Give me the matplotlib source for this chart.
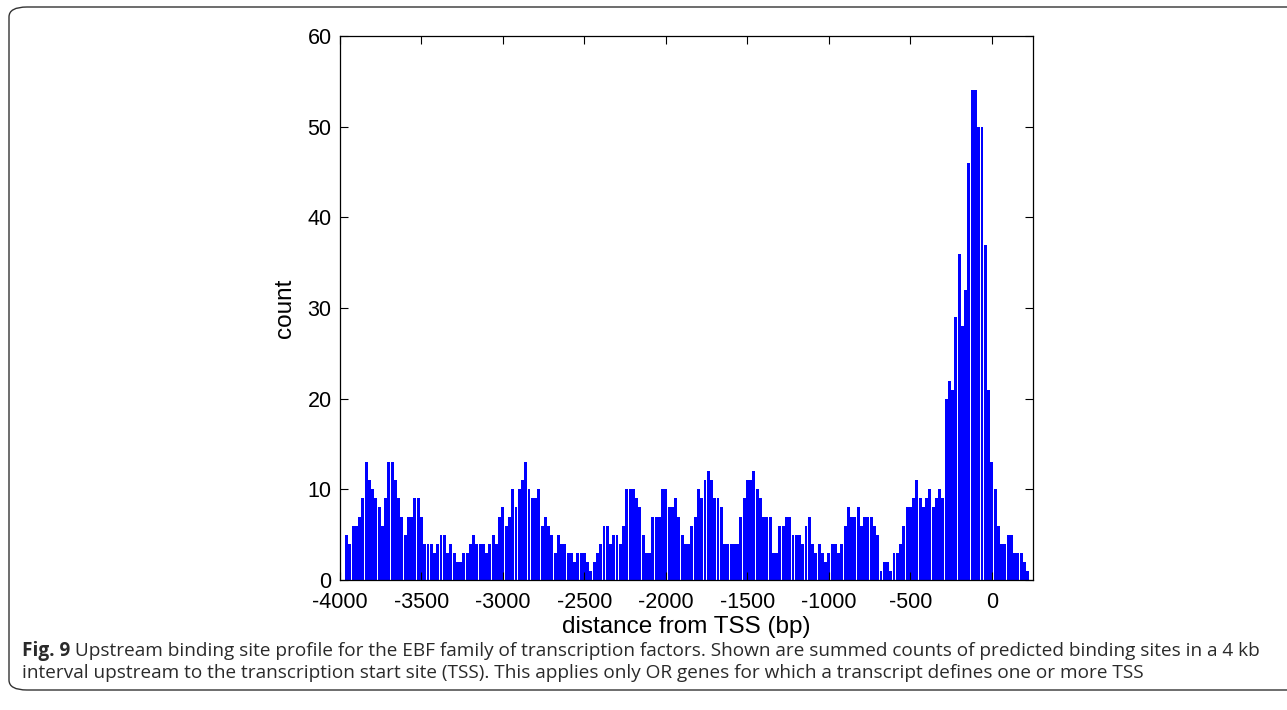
import numpy as np
import matplotlib.pyplot as plt
from matplotlib.patches import FancyBboxPatch

# bin centres every 20 bp, first at -3960
bin_start = -3960
bin_step = 20
counts = [
    5, 4, 6, 6, 7, 9, 13, 11, 10, 9, 8, 6, 9, 13, 13, 11, 9, 7, 5, 7,
    7, 9, 9, 7, 4, 4, 4, 3, 4, 5, 5, 3, 4, 3, 2, 2, 3, 3, 4, 5,
    4, 4, 4, 3, 4, 5, 4, 7, 8, 6, 7, 10, 8, 10, 11, 13, 10, 9, 9, 10,
    6, 7, 6, 5, 3, 5, 4, 4, 3, 3, 2, 3, 3, 3, 2, 1, 2, 3, 4, 6,
    6, 4, 5, 5, 4, 6, 10, 10, 10, 9, 8, 5, 3, 3, 7, 7, 7, 10, 10, 8,
    8, 9, 7, 5, 4, 4, 6, 7, 10, 9, 11, 12, 11, 9, 9, 8, 4, 4, 4, 4,
    4, 7, 9, 11, 11, 12, 10, 9, 7, 7, 7, 3, 3, 6, 6, 7, 7, 5, 5, 5,
    4, 6, 7, 4, 3, 4, 3, 2, 3, 4, 4, 3, 4, 6, 8, 7, 7, 8, 6, 7,
    7, 7, 6, 5, 1, 2, 2, 1, 3, 3, 4, 6, 8, 8, 9, 11, 9, 8, 9, 10,
    8, 9, 10, 9, 20, 22, 21, 29, 36, 28, 32, 46, 54, 54, 50, 50, 37, 21, 13, 10,
    6, 4, 4, 5, 5, 3, 3, 3, 2, 1,
]
centres = bin_start + bin_step * np.arange(len(counts))

x_ticks = list(range(-4000, 1, 500))
y_ticks = list(range(0, 61, 10))

caption_bold = "Fig. 9"
caption_lines = [
    " Upstream binding site profile for the EBF family of transcription factors. Shown are summed counts of predicted binding sites in a 4 kb",
    "interval upstream to the transcription start site (TSS). This applies only OR genes for which a transcript defines one or more TSS",
]

plt.rcParams['axes.unicode_minus'] = False

fig = plt.figure(figsize=(12.87, 7.10), dpi=100)

# rounded frame around the figure panel
frame = FancyBboxPatch((9 / 1287, 20 / 710), 1.2, 683 / 710,
                       boxstyle="round,pad=0,rounding_size=0.014",
                       transform=fig.transFigure, fill=False,
                       edgecolor="#333333", linewidth=1.0)
fig.patches.append(frame)

ax = fig.add_axes([340 / 1287, 130 / 710, 693 / 1287, 544 / 710])
ax.bar(centres, counts, width=bin_step * 0.9, color="#0000ff", edgecolor="none")

ax.set_xlim(-4000, 253)
ax.set_ylim(0, 60)
ax.set_xticks(x_ticks)
ax.set_yticks(y_ticks)
ax.tick_params(direction="in", top=True, right=True, length=6, width=0.8,
               labelsize=15.5)
ax.tick_params(axis="x", pad=9)
ax.tick_params(axis="y", pad=6)
for s in ax.spines.values():
    s.set_linewidth(0.9)
ax.set_xlabel("distance from TSS (bp)", fontsize=17.5, labelpad=2)
ax.set_ylabel("count", fontsize=17.5, labelpad=8)
for lbl in ax.get_xticklabels() + ax.get_yticklabels():
    lbl.set_family("Liberation Sans")
ax.xaxis.label.set_family("Liberation Sans")
ax.yaxis.label.set_family("Liberation Sans")

# caption
cap_font = dict(family="Open Sans", fontsize=13.7, color="#2a2a2a")
y0 = 1 - 656 / 710
bold = fig.text(22 / 1287, y0, caption_bold, fontweight="bold", **cap_font)
renderer = fig.canvas.get_renderer()
bb = bold.get_window_extent(renderer)
fig.text(bb.x1 / fig.bbox.width, y0, caption_lines[0], **cap_font)
fig.text(22 / 1287, 1 - 678 / 710, caption_lines[1], **cap_font)

fig.savefig("out.png", dpi=100)
